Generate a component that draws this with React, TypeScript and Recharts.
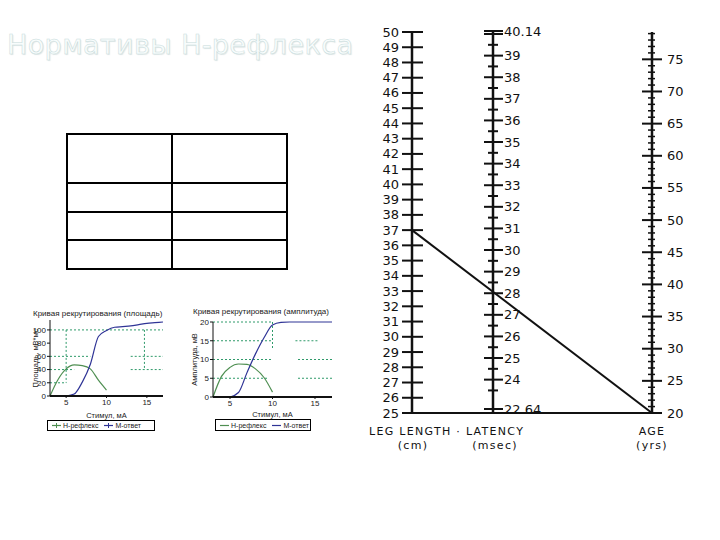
import { ComposedChart, LineChart, Line, XAxis, YAxis, ReferenceLine, Legend } from "recharts";

const INK = "#111111";
const H_COLOR = "#4f8f52";
const M_COLOR = "#2f3496";
const GUIDE = "#2f9a6a";
const SMALL_FONT = "Liberation Sans, Arial, sans-serif";
const NOMO_FONT = "DejaVu Sans, sans-serif";

// recruitment curves (stimulus, mA)
const stimulusH = [3, 4, 5, 6, 7, 8, 9, 10];
const areaH = [0, 25, 41, 47, 46, 41, 24, 9];
const amplitudeH = [0, 5.5, 7.9, 8.8, 8.7, 7.5, 5.2, 1.3];
const stimulusM = [5, 6, 7, 8, 9, 10, 11, 12, 13, 14, 15, 16, 17];
const areaM = [0, 3, 21, 48, 90, 99, 104, 105, 106, 108, 110, 111, 112];
const amplitudeM = [0, 1.2, 6.5, 11.5, 15.8, 19.2, 19.9, 20, 20, 20, 20, 20, 20];
const stimulusTicks = [5, 10, 15];
const areaTicks = [0, 20, 40, 60, 80, 100];
const amplitudeTicks = [0, 5, 10, 15, 20];
const seriesOrder = ["Н-рефлекс", "М-ответ"];

// dashed threshold guides: [x1, y1, x2, y2]
const areaGuides = [
  [3, 100, 17, 100], [3, 60, 8, 60], [13, 60, 17, 60], [3, 40, 6, 40],
  [13, 40, 17, 40], [3, 20, 5, 20], [5, 100, 5, 20], [14.7, 100, 14.7, 40],
];
const amplitudeGuides = [
  [3, 20, 10, 20], [3, 15, 10, 15], [12.7, 15, 15.4, 15], [3, 10, 10, 10],
  [13, 10, 17, 10], [3, 5, 9.5, 5], [13, 5, 17, 5], [10, 20, 10, 13],
];

// nomogram scales
const legLabels = [25, 26, 27, 28, 29, 30, 31, 32, 33, 34, 35, 36, 37, 38, 39, 40, 41, 42, 43, 44, 45, 46, 47, 48, 49, 50];
const latencyLabels = [22.64, 24, 25, 26, 27, 28, 29, 30, 31, 32, 33, 34, 35, 36, 37, 38, 39, 40.14];
const latencyBlank = [40];
const latencyHalves = [23.5, 24.5, 25.5, 26.5, 27.5, 28.5, 29.5, 30.5, 31.5, 32.5, 33.5, 34.5, 35.5, 36.5, 37.5, 38.5, 39.5];
const ageLabels = [20, 25, 30, 35, 40, 45, 50, 55, 60, 65, 70, 75];
const ageYears = Array.from({ length: 60 }, (_, i) => 20 + i);

// worked example: leg length 37 cm, age 20 yrs -> latency ~28.2 ms
// (age 20 sits on the shared baseline, i.e. leg 25)
const exampleLeg = 37;
const baselineLeg = 25;
const exampleAge = 20;
const exampleLatency = 28.2;
const nomogramLine = [
  { x: 0, leg: exampleLeg },
  { x: 1, leg: baselineLeg, age: exampleAge },
];
const latencyReading = [{ x: 0.35, latency: exampleLatency }];

const toPoints = (xs: number[], ys: number[]) => xs.map((x, i) => ({ x, y: ys[i] }));

function LegTick(props: any) {
  const { x, y, payload } = props;
  return (
    <g>
      <line x1={x - 10} x2={x + 11} y1={y} y2={y} stroke={INK} strokeWidth={2} />
      <text x={x - 13} y={y} dy={4.5} textAnchor="end" fontSize={13} fontFamily={NOMO_FONT} fill={INK}>
        {payload.value}
      </text>
    </g>
  );
}

function LatencyTick(props: any) {
  const { x, y, payload } = props;
  const v = payload.value;
  const labelled = latencyLabels.includes(v);
  const major = labelled || latencyBlank.includes(v);
  return (
    <g>
      <line x1={x - (major ? 9 : 5)} x2={x + (major ? 10 : 5)} y1={y} y2={y} stroke={INK} strokeWidth={2} />
      {labelled && (
        <text x={x + 11} y={y} dy={4.5} textAnchor="start" fontSize={13} fontFamily={NOMO_FONT} fill={INK}>
          {v}
        </text>
      )}
    </g>
  );
}

function AgeTick(props: any) {
  const { x, y, payload } = props;
  const v = payload.value;
  const major = ageLabels.includes(v);
  return (
    <g>
      <line x1={x - (major ? 10 : 4)} x2={x + (major ? 10 : 3)} y1={y} y2={y} stroke={INK} strokeWidth={major ? 2 : 1.5} />
      {major && (
        <text x={x + 15} y={y} dy={4.5} textAnchor="start" fontSize={13} fontFamily={NOMO_FONT} fill={INK}>
          {v}
        </text>
      )}
    </g>
  );
}

const titleStyle = { fontSize: 11, fontFamily: NOMO_FONT, fill: INK, letterSpacing: 1.3 };

function legTitle({ viewBox }: any) {
  const ax = viewBox.x + viewBox.width;
  const base = viewBox.y + viewBox.height;
  return (
    <g>
      <text x={ax - 43} y={base + 22} {...titleStyle}>LEG LENGTH · LATENCY</text>
      <text x={ax + 1} y={base + 36} textAnchor="middle" {...titleStyle}>(cm)</text>
    </g>
  );
}

function latencyTitle({ viewBox }: any) {
  const ax = viewBox.x + viewBox.width;
  const base = viewBox.y + viewBox.height;
  return (
    <text x={ax + 2} y={base + 36} textAnchor="middle" {...titleStyle}>(msec)</text>
  );
}

function ageTitle({ viewBox }: any) {
  const ax = viewBox.x;
  const base = viewBox.y + viewBox.height;
  return (
    <g>
      <text x={ax} y={base + 22} textAnchor="middle" {...titleStyle}>AGE</text>
      <text x={ax} y={base + 36} textAnchor="middle" {...titleStyle}>(yrs)</text>
    </g>
  );
}

function Nomogram() {
  return (
    <>
      <div style={{ position: "absolute", left: 0, top: 0 }}>
        <ComposedChart width={720} height={540} data={nomogramLine} margin={{ top: 32, right: 18, bottom: 125, left: 372 }}>
          <XAxis type="number" dataKey="x" domain={[0, 1]} tick={false} tickLine={false} height={2}
            axisLine={{ stroke: INK, strokeWidth: 2 }} />
          <YAxis yAxisId="leg" type="number" domain={[25, 50]} allowDataOverflow ticks={legLabels} interval={0} width={40}
            tickSize={0} tickMargin={0} tickLine={false} axisLine={{ stroke: INK, strokeWidth: 2.5 }}
            tick={<LegTick />} label={{ content: legTitle }} />
          <YAxis yAxisId="age" orientation="right" type="number" domain={[20, 79.25]} allowDataOverflow ticks={ageYears}
            interval={0} width={50} tickSize={0} tickMargin={0} tickLine={false}
            axisLine={{ stroke: INK, strokeWidth: 2.5 }} tick={<AgeTick />} label={{ content: ageTitle }} />
          <Line yAxisId="leg" dataKey="leg" stroke={INK} strokeWidth={2} dot={false} isAnimationActive={false} />
          <Line yAxisId="age" dataKey="age" stroke="none" dot={false} activeDot={false} isAnimationActive={false} />
        </ComposedChart>
      </div>
      <div style={{ position: "absolute", left: 0, top: 0 }}>
        <ComposedChart width={720} height={540} data={latencyReading} margin={{ top: 31, right: 20, bottom: 127, left: 453 }}>
          <XAxis type="number" dataKey="x" domain={[0, 1]} hide />
          <YAxis type="number" domain={[22.455, 40.14]} allowDataOverflow
            ticks={[...latencyLabels, ...latencyBlank, ...latencyHalves]}
            interval={0} width={40} tickSize={0} tickMargin={0} tickLine={false}
            axisLine={{ stroke: INK, strokeWidth: 2.5 }} tick={<LatencyTick />} label={{ content: latencyTitle }} />
          <Line dataKey="latency" stroke="none" dot={false} activeDot={false} isAnimationActive={false} />
        </ComposedChart>
      </div>
    </>
  );
}

function SmallLegend({ payload, marker }: any) {
  const items = [...(payload || [])].sort((a: any, b: any) => seriesOrder.indexOf(a.value) - seriesOrder.indexOf(b.value));
  return (
    <div style={{
      boxSizing: "border-box", height: "100%", border: "1px solid #000", background: "#fff",
      display: "flex", alignItems: "center", gap: 6, paddingLeft: 4,
      fontSize: 7, fontFamily: SMALL_FONT, color: "#222", lineHeight: "7px", whiteSpace: "nowrap",
    }}>
      {items.map((p: any) => (
        <span key={p.value} style={{ display: "flex", alignItems: "center", gap: 2 }}>
          <svg width={9} height={5}>
            <line x1={0} x2={9} y1={2.5} y2={2.5} stroke={p.color} strokeWidth={1.2} />
            {marker && <line x1={4.5} x2={4.5} y1={0} y2={5} stroke={p.color} strokeWidth={1} />}
          </svg>
          {p.value}
        </span>
      ))}
    </div>
  );
}

function RecruitmentChart(props: any) {
  const { left, top, width, height, margin, yWidth, xHeight, title, titlePos, yLabel, yLabelDx,
    hValues, mValues, yDomain, yTicks, guides, legendBox, marker } = props;
  const yLabelContent = ({ viewBox }: any) => {
    const cx = viewBox.x + yLabelDx;
    const cy = viewBox.y + viewBox.height / 2;
    return (
      <text x={cx} y={cy} transform={`rotate(-90 ${cx} ${cy})`} textAnchor="middle" dominantBaseline="central"
        fontSize={7.5} fontFamily={SMALL_FONT} fill="#222">{yLabel}</text>
    );
  };
  return (
    <div style={{ position: "absolute", left, top, width, height }}>
      <div style={{ position: "absolute", left: titlePos[0], top: titlePos[1], fontSize: 8, lineHeight: "8px",
        fontFamily: SMALL_FONT, color: "#222", whiteSpace: "nowrap" }}>{title}</div>
      <LineChart width={width} height={height} margin={margin}>
        <XAxis type="number" dataKey="x" domain={[3, 17]} ticks={stimulusTicks} height={xHeight}
          tick={{ fontSize: 8, fill: "#222", fontFamily: SMALL_FONT }} tickSize={2} tickMargin={1}
          tickLine={{ stroke: INK }} axisLine={{ stroke: INK, strokeWidth: 2 }}
          label={{ value: "Стимул, мА", position: "insideBottom", offset: 2, fontSize: 7.5, fill: "#222", fontFamily: SMALL_FONT }} />
        <YAxis type="number" domain={yDomain} ticks={yTicks} interval={0} width={yWidth}
          tick={{ fontSize: 8, fill: "#222", fontFamily: SMALL_FONT }} tickSize={3} tickMargin={1}
          tickLine={{ stroke: INK }} axisLine={{ stroke: INK }} label={{ content: yLabelContent }} />
        {guides.map((g: number[], i: number) => (
          <ReferenceLine key={i} segment={[{ x: g[0], y: g[1] }, { x: g[2], y: g[3] }]}
            stroke={GUIDE} strokeDasharray="2 2" strokeWidth={1} ifOverflow="extendDomain" />
        ))}
        <Line data={toPoints(stimulusH, hValues)} dataKey="y" name="Н-рефлекс" type="monotone" stroke={H_COLOR}
          strokeWidth={1.2} dot={false} isAnimationActive={false} />
        <Line data={toPoints(stimulusM, mValues)} dataKey="y" name="М-ответ" type="monotone" stroke={M_COLOR}
          strokeWidth={1.2} dot={false} isAnimationActive={false} />
        <Legend verticalAlign="bottom" height={legendBox[2]}
          wrapperStyle={{ left: legendBox[0], width: legendBox[1], height: legendBox[2] }}
          content={(p: any) => <SmallLegend payload={p.payload} marker={marker} />} />
      </LineChart>
    </div>
  );
}

export default function App() {
  return (
    <div style={{ position: "absolute", left: 0, top: 0, width: 720, height: 540, background: "#fff",
      fontFamily: SMALL_FONT, overflow: "hidden" }}>
      <Nomogram />
      <div style={{
        position: "absolute", left: 7, top: 31, fontSize: 27, lineHeight: "27px", fontFamily: NOMO_FONT,
        letterSpacing: 0.4, color: "#f8fcfc", WebkitTextStroke: "0.5px #c9dcdc",
        textShadow: "1px 1px 1px rgba(130,160,160,0.25)", whiteSpace: "nowrap",
      }}>Нормативы Н-рефлекса</div>
      <table style={{ position: "absolute", left: 66, top: 133, width: 222, borderCollapse: "collapse", tableLayout: "fixed" }}>
        <tbody>
          {[49, 29, 28, 29].map((h, i) => (
            <tr key={i} style={{ height: h }}>
              <td style={{ width: 103, border: "2px solid #000", padding: 0 }} />
              <td style={{ border: "2px solid #000", padding: 0 }} />
            </tr>
          ))}
        </tbody>
      </table>
      <RecruitmentChart left={28} top={305} width={140} height={130}
        margin={{ top: 15, right: 5, bottom: 4, left: 8 }} yWidth={14} xHeight={24}
        title="Кривая рекрутирования (площадь)" titlePos={[5, 5]}
        yLabel="Площадь, мВ*мс" yLabelDx={-1}
        hValues={areaH} mValues={areaM} yDomain={[0, 115]} yTicks={areaTicks} guides={areaGuides}
        legendBox={[19, 108, 11]} marker />
      <RecruitmentChart left={185} top={305} width={155} height={130}
        margin={{ top: 17, right: 8, bottom: 4, left: 16 }} yWidth={12} xHeight={22}
        title="Кривая рекрутирования (амплитуда)" titlePos={[8, 3]}
        yLabel="Амплитуда, мВ" yLabelDx={-7}
        hValues={amplitudeH} mValues={amplitudeM} yDomain={[0, 20]} yTicks={amplitudeTicks} guides={amplitudeGuides}
        legendBox={[30, 96, 12]} marker={false} />
    </div>
  );
}
